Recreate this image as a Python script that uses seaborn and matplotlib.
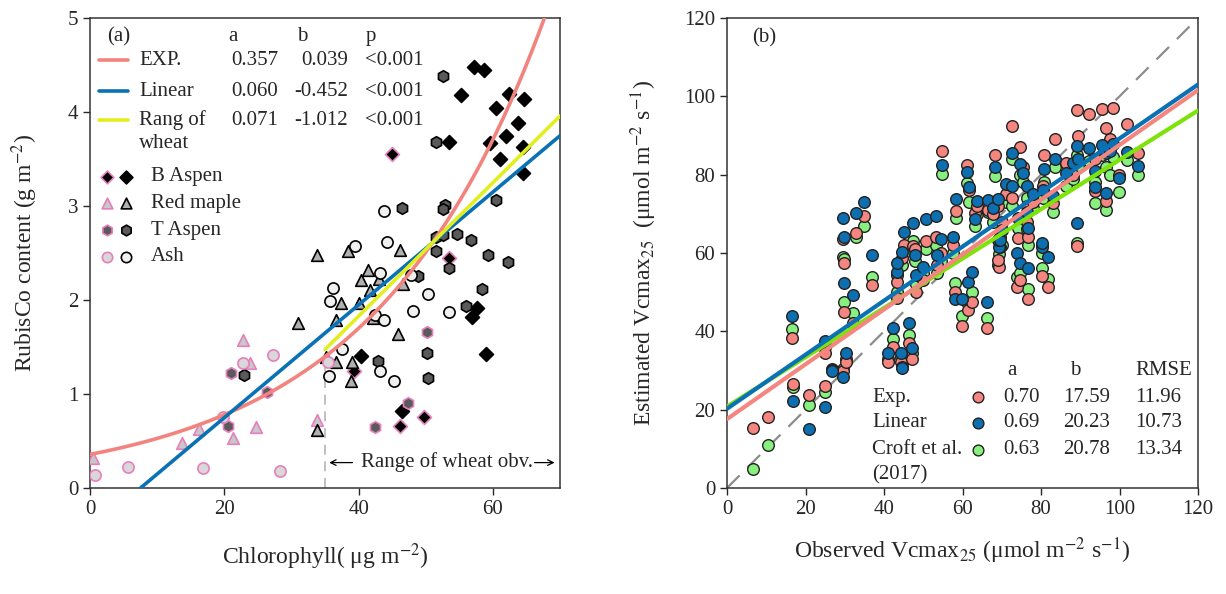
import numpy as np
import pandas as pd
import matplotlib
matplotlib.use("Agg")
import matplotlib.pyplot as plt
import seaborn as sns

# ---- panel (a): chlorophyll vs RubisCo, per species, pink = subset ----
baspen_pink = [(45.0, 3.55), (39.3, 1.24), (46.2, 0.66), (49.8, 0.76), (53.5, 2.45)]
baspen_black = [(57.2, 4.48), (58.7, 4.45), (55.3, 4.18), (62.4, 4.19), (64.7, 4.14),
                (60.5, 4.04), (63.8, 3.88), (53.4, 3.68), (59.6, 3.67), (62.0, 3.74),
                (64.5, 3.63), (61.0, 3.50), (64.5, 3.35), (57.7, 1.91), (56.9, 1.82),
                (59.0, 1.43), (40.4, 1.40), (46.5, 0.82)]
maple_pink = [(0.45, 0.32), (13.7, 0.48), (16.3, 0.63), (21.3, 0.53), (22.8, 1.57),
              (23.8, 1.33), (24.7, 0.65), (33.8, 0.72)]
maple_black = [(33.8, 2.48), (38.4, 2.52), (46.1, 2.53), (31.0, 1.76), (36.7, 1.79),
               (37.4, 1.97), (40.0, 1.97), (40.4, 2.21), (41.4, 2.32), (41.7, 2.11),
               (43.1, 2.22), (46.6, 2.17), (42.2, 1.81), (45.9, 1.64), (36.7, 1.34),
               (39.0, 1.34), (38.8, 1.14), (33.8, 0.62), (35.2, 1.39)]
taspen_pink = [(20.6, 0.66), (21.0, 1.22), (26.4, 1.02), (42.5, 0.65), (47.4, 0.90),
               (50.2, 1.66)]
taspen_black = [(46.5, 2.98), (52.9, 3.01), (52.5, 2.97), (60.4, 3.06), (51.6, 2.67),
                (52.6, 2.69), (54.6, 2.70), (56.8, 2.64), (51.6, 2.52), (59.2, 2.48),
                (62.3, 2.40), (53.5, 2.34), (48.9, 2.25), (58.4, 2.12), (56.0, 1.94),
                (50.2, 1.44), (42.9, 1.35), (23.0, 1.20), (50.4, 1.17), (52.5, 4.38),
                (51.6, 3.68)]
ash_pink = [(0.7, 0.14), (5.7, 0.22), (16.8, 0.21), (19.8, 0.76), (22.8, 1.33),
            (27.2, 1.41), (28.3, 0.18), (35.5, 1.34)]
ash_black = [(43.8, 2.95), (39.5, 2.57), (44.2, 2.62), (43.2, 2.29), (47.8, 2.27),
             (36.2, 2.13), (35.8, 1.99), (50.4, 2.06), (48.1, 1.88), (53.4, 1.87),
             (42.5, 1.84), (43.8, 1.79), (37.6, 1.48), (35.6, 1.19), (43.2, 1.24),
             (45.2, 1.14)]

fit_names = ["EXP.", "Linear", "Rang of"]
fit_a = [0.357, 0.060, 0.071]
fit_b = [0.039, -0.452, -1.012]
fit_p = ["<0.001", "<0.001", "<0.001"]
wheat_min = 35

# ---- panel (b): observed vs estimated Vcmax25 ----
# rows: observed, Exp., Linear, Croft et al.
vc_rows = [
    (6.7, 15.3, np.nan, 4.8), (10.5, 18.1, np.nan, 11.0), (16.5, 38.3, 43.9, 40.6),
    (16.8, 26.5, 22.2, 25.8), (20.9, 23.7, 15.0, 21.2), (25.0, 34.4, 37.5, 36.0),
    (25.0, 26.0, 20.7, 24.5), (26.7, 30.0, 29.9, 30.3), (29.6, 29.8, 28.3, 30.5),
    (30.3, 32.2, 34.4, 33.0), (29.6, 63.6, 69.0, 59.0), (29.7, 57.4, 64.1, 58.5),
    (29.8, 45.0, 52.3, 47.5), (32.1, 42.1, 49.3, 44.7), (32.9, 65.1, 70.2, 64.0),
    (34.9, 69.4, 73.0, 67.0), (37.0, 51.8, 59.5, 53.9), (41.0, 32.2, 34.4, 33.0),
    (42.3, 36.0, 40.8, 38.0), (44.3, 32.2, 34.4, 33.5), (44.5, 31.0, 30.6, 32.0),
    (46.4, 37.0, 42.0, 39.0), (47.0, 33.0, 35.7, 34.4), (43.3, 52.6, 55.1, 54.5),
    (43.3, 48.5, 57.5, 50.0), (44.6, 58.7, 60.3, 57.0), (45.1, 62.0, 65.4, 60.0),
    (47.4, 61.8, 67.7, 63.0), (47.8, 61.0, 59.5, 58.0), (48.2, 50.0, 54.4, 52.0),
    (49.9, 53.0, 56.4, 55.0), (50.7, 63.1, 68.7, 61.0), (53.2, 64.1, 69.4, 62.0),
    (53.5, 57.0, 59.5, 55.0), (54.5, 60.0, 63.6, 58.0), (54.8, 86.0, 82.5, 80.2),
    (57.6, 62.0, 64.1, 60.0), (58.3, 70.7, 73.8, 68.9), (58.1, 50.0, 48.3, 52.3),
    (59.9, 41.4, 48.3, 43.9), (61.4, 45.4, 52.6, 47.0), (62.4, 47.5, 55.1, 50.0),
    (66.2, 40.8, 47.5, 43.4), (69.3, 56.4, 61.5, 59.8), (69.0, 58.2, 63.3, 57.0),
    (73.9, 51.3, 60.0, 53.9), (74.6, 53.0, 57.5, 55.0), (76.7, 48.3, 56.2, 50.8),
    (80.3, 54.2, 61.5, 56.2), (81.9, 51.3, 59.0, 53.4), (61.1, 82.4, 80.7, 77.9),
    (61.6, 76.0, 76.9, 73.0), (63.2, 70.2, 68.6, 67.0), (63.7, 72.0, 73.3, 70.0),
    (66.5, 71.0, 73.5, 70.5), (67.8, 70.0, 71.5, 68.0), (68.3, 85.0, 82.0, 79.6),
    (69.0, 72.0, 73.8, 72.5), (69.6, 61.6, 63.3, 64.0), (70.0, 68.0, 65.9, 62.0),
    (71.1, 75.0, 77.6, 73.0), (72.6, 92.4, 85.5, 84.0), (74.6, 87.0, 82.7, 80.0),
    (72.6, 74.0, 77.0, 72.0), (74.1, 63.8, 68.9, 66.5), (75.5, 82.0, 80.4, 78.0),
    (76.4, 72.0, 77.1, 74.0), (76.4, 68.0, 70.5, 66.0), (76.7, 64.0, 66.4, 62.0),
    (78.0, 73.0, 75.0, 71.5), (80.3, 62.0, 62.5, 60.0), (80.5, 77.2, 76.1, 74.0),
    (80.8, 85.0, 81.4, 78.0), (83.0, 72.8, 74.5, 70.4), (83.6, 89.1, 84.0, 82.0),
    (86.4, 83.0, 80.4, 77.0), (88.2, 80.0, 83.0, 79.0), (89.2, 96.5, 87.3, 85.0),
    (89.4, 89.9, 84.0, 82.0), (89.2, 61.8, 67.6, 62.5), (92.3, 95.5, 86.8, 83.5),
    (93.8, 83.9, 80.9, 78.2), (93.8, 75.9, 76.9, 72.8), (95.5, 96.8, 87.6, 85.0),
    (96.6, 91.9, 85.5, 82.0), (96.6, 73.3, 75.3, 71.0), (97.6, 89.1, 86.0, 80.0),
    (98.4, 97.0, 87.8, 84.5), (99.9, 80.0, 79.1, 75.6), (102.0, 93.0, 85.8, 83.7),
    (104.7, 85.5, 82.2, 79.9),
]
vc_models = ["Exp.", "Linear", "Croft et al."]
vc_a = ["0.70", "0.69", "0.63"]
vc_b = ["17.59", "20.23", "20.78"]
vc_rmse = ["11.96", "10.73", "13.34"]
vc_slope = [0.70, 0.69, 0.63]
vc_icpt = [17.59, 20.23, 20.78]

sns.set_style("ticks")
plt.rcParams["font.family"] = ["Liberation Serif", "DejaVu Serif"]
plt.rcParams["mathtext.fontset"] = "stix"

PINK = "#e67fbe"
RED_LINE = "#f2837e"
BLUE_LINE = "#0a72b4"
YEL_LINE = "#e1ee1f"
fs = 15

fig = plt.figure(figsize=(12.26, 5.94), dpi=100)
ax1 = fig.add_axes([0.0734, 0.1785, 0.3834, 0.7912])
ax2 = fig.add_axes([0.593, 0.1785, 0.3842, 0.7912])

# ---------------- panel (a) ----------------
styles = [
    (baspen_pink, "D", "black", PINK, 50), (baspen_black, "D", "black", "black", 50),
    (maple_pink, "^", "#c8c8c8", PINK, 70), (maple_black, "^", "#b0b0b0", "black", 70),
    (taspen_pink, "h", "#5a5a5a", PINK, 70), (taspen_black, "h", "#5a5a5a", "black", 70),
    (ash_pink, "o", "#d8d8d8", PINK, 65), (ash_black, "o", "#f0f0f0", "black", 65),
]
for pts, mk, fc, ec, sz in styles:
    d = pd.DataFrame(pts, columns=["chl", "rub"])
    sns.scatterplot(data=d, x="chl", y="rub", ax=ax1, marker=mk, color=fc,
                    edgecolor=ec, linewidth=1.2, s=sz, zorder=3, legend=False)

xx = np.linspace(0, 70, 200)
line_df = pd.DataFrame({"x": xx,
                        "exp": fit_a[0] * np.exp(fit_b[0] * xx),
                        "lin": fit_a[1] * xx + fit_b[1]})
xw = np.linspace(wheat_min, 70, 50)
wheat_df = pd.DataFrame({"x": xw, "y": fit_a[2] * xw + fit_b[2]})
sns.lineplot(data=line_df, x="x", y="exp", ax=ax1, color=RED_LINE, lw=2.6, zorder=4)
sns.lineplot(data=line_df, x="x", y="lin", ax=ax1, color=BLUE_LINE, lw=2.6, zorder=4)
sns.lineplot(data=wheat_df, x="x", y="y", ax=ax1, color=YEL_LINE, lw=2.6, zorder=4)

ax1.plot([wheat_min, wheat_min], [0, 1.42], color="#b5b5b5", lw=1.2, ls=(0, (6, 4)), zorder=2)
ax1.text(53.2, 0.28, "Range of wheat obv.", ha="center", va="center", fontsize=15)
ax1.annotate("", xy=(35.2, 0.27), xytext=(39.5, 0.27),
             arrowprops=dict(arrowstyle="->", color="black", lw=0.9))
ax1.annotate("", xy=(69.6, 0.27), xytext=(65.8, 0.27),
             arrowprops=dict(arrowstyle="->", color="black", lw=0.9))

ax1.set_xlim(0, 70)
ax1.set_ylim(0, 5)
ax1.set_xticks([0, 20, 40, 60])
ax1.set_yticks([0, 1, 2, 3, 4, 5])
ax1.set_xlabel("Chlorophyll( μg m$^{-2}$)", fontsize=17, labelpad=16)
ax1.set_ylabel("RubisCo content (g m$^{-2}$)", fontsize=17, labelpad=20)

# table legend (a)
ax1.text(2.6, 4.80, "(a)", fontsize=fs, va="center")
for x0, h in zip([20.6, 30.8, 41.0], ["a", "b", "p"]):
    ax1.text(x0, 4.80, h, fontsize=fs, va="center")
row_y = [4.55, 4.22, 3.91]
for yy, nm, a, b, p, c in zip(row_y, fit_names, fit_a, fit_b, fit_p,
                              [RED_LINE, BLUE_LINE, YEL_LINE]):
    ax1.plot([1.3, 5.6], [yy, yy], color=c, lw=2.6)
    ax1.text(7.3, yy, nm, fontsize=fs, va="center")
    ax1.text(28.0, yy, f"{a:.3f}", fontsize=fs, va="center", ha="right")
    ax1.text(38.4, yy, f"{b:.3f}", fontsize=fs, va="center", ha="right")
    ax1.text(41.0, yy, p, fontsize=fs, va="center")
ax1.text(7.3, 3.66, "wheat", fontsize=fs, va="center")

sp_names = ["B Aspen", "Red maple", "T Aspen", "Ash"]
sp_y = [3.31, 3.03, 2.74, 2.46]
for i, (nm, yy) in enumerate(zip(sp_names, sp_y)):
    _, mk, fcp, ecp, sz = styles[2 * i]
    _, _, fcb, ecb, _ = styles[2 * i + 1]
    ax1.scatter([2.6], [yy], marker=mk, color=fcp, edgecolor=ecp, lw=1.2, s=sz * 0.85)
    ax1.scatter([5.4], [yy], marker=mk, color=fcb, edgecolor=ecb, lw=1.2, s=sz * 0.85)
    ax1.text(9.1, yy, nm, fontsize=fs, va="center")

# ---------------- panel (b) ----------------
vc = pd.DataFrame(vc_rows, columns=["obs", "Exp", "Linear", "Croft"])
pt_colors = {"Croft": "#88f07e", "Exp": "#f4857f", "Linear": "#0d6fb0"}
for col in ["Croft", "Exp", "Linear"]:
    sns.scatterplot(data=vc, x="obs", y=col, ax=ax2, color=pt_colors[col],
                    edgecolor="#222222", linewidth=1.0, s=70, zorder=3, legend=False)

ax2.plot([0, 120], [0, 120], color="#8c8c8c", lw=1.6, ls=(0, (8, 5)), zorder=2)
xo = np.linspace(0, 120, 50)
fit_df = pd.DataFrame({"x": xo})
line_cols = ["#f4857f", BLUE_LINE, "#7de30a"]
for k, (sl, ic) in enumerate(zip(vc_slope, vc_icpt)):
    fit_df[f"m{k}"] = sl * xo + ic
for k in [2, 0, 1]:
    sns.lineplot(data=fit_df, x="x", y=f"m{k}", ax=ax2, color=line_cols[k], lw=3, zorder=4)

ax2.set_xlim(0, 120)
ax2.set_ylim(0, 120)
ax2.set_xticks(range(0, 121, 20))
ax2.set_yticks(range(0, 121, 20))
ax2.set_xlabel("Observed Vcmax$_{25}$ (μmol m$^{-2}$ s$^{-1}$)", fontsize=17, labelpad=12)
ax2.set_ylabel("Estimated Vcmax$_{25}$  (μmol m$^{-2}$ s$^{-1}$)", fontsize=17, labelpad=18)
ax2.text(6.4, 115, "(b)", fontsize=fs, va="center")

ax2.text(71.3, 30.1, "a", fontsize=fs, va="center")
ax2.text(87.4, 30.1, "b", fontsize=fs, va="center")
ax2.text(104.0, 30.1, "RMSE", fontsize=fs, va="center")
vc_row_y = [23.2, 16.6, 9.7]
mk_cols = ["#f4857f", "#0d6fb0", "#88f07e"]
for yy, nm, a, b, r, c in zip(vc_row_y, vc_models, vc_a, vc_b, vc_rmse, mk_cols):
    ax2.text(37.0, yy, nm, fontsize=fs, va="center")
    ax2.scatter([63.9], [yy], color=c, edgecolor="#222222", lw=1.0, s=60, zorder=5)
    ax2.text(70.3, yy, a, fontsize=fs, va="center")
    ax2.text(85.6, yy, b, fontsize=fs, va="center")
    ax2.text(104.0, yy, r, fontsize=fs, va="center")
ax2.text(37.0, 3.3, "(2017)", fontsize=fs, va="center")

for ax in (ax1, ax2):
    ax.tick_params(labelsize=fs, direction="out", length=5, width=1,
                   top=False, right=False)
    for sp in ax.spines.values():
        sp.set_visible(True)
        sp.set_linewidth(1.1)
        sp.set_color("#333333")

fig.savefig("out.png", dpi=100)
